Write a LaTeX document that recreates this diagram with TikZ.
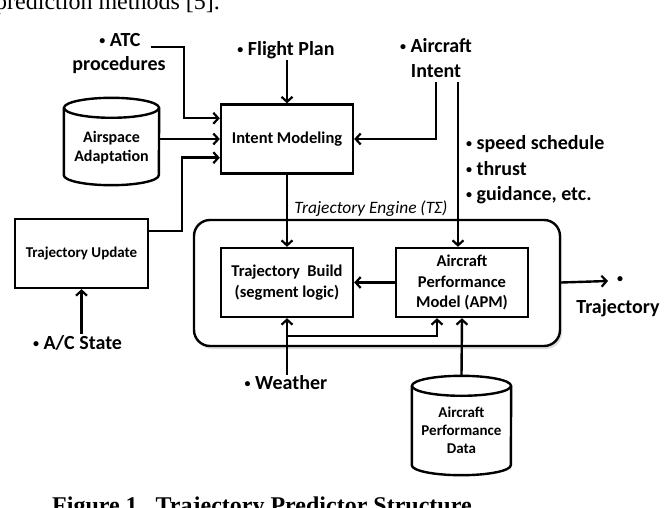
\documentclass[tikz,border=0pt]{standalone}
\usepackage{fontspec}
\setmainfont{Carlito}
\newfontfamily\capfont{Liberation Serif}
\usetikzlibrary{arrows.meta,shadows,calc}
\newcommand\bul{\raisebox{0.22ex}{\fontsize{12}{12}\selectfont•}}
\begin{document}
\begin{tikzpicture}[x=1pt,y=-1pt,
  lw/.style={line width=2.4pt},
  arr/.style={lw,-{Straight Barb[length=5pt,width=11pt,line width=2.2pt]}},
  boxn/.style={draw,lw,fill=white,minimum width=132pt,minimum height=69pt,align=center,
    font=\fontsize{16.5}{20.5}\selectfont\bfseries,inner sep=0pt},
  lab/.style={font=\fontsize{20}{25.5}\selectfont\bfseries,align=center,inner sep=1pt},
  cyltext/.style={font=\fontsize{16}{19}\selectfont\bfseries,align=center,inner sep=0pt},
  capt/.style={font=\capfont\fontsize{24}{28}\selectfont,anchor=base west,inner sep=0pt}
]
\useasboundingbox (0,0) rectangle (664,508);
\fill[white] (0,0) rectangle (664,508);

% cut-off surrounding text
\node[capt] (toptext) at (-5,10) {prediction methods [5].};
\node[capt,font=\capfont\bfseries\fontsize{24}{28}\selectfont] (caption) at (52,513) {Figure 1.\ \ Trajectory Predictor Structure};

% trajectory engine
\node[draw,lw,fill=white,rounded corners=16pt,minimum width=366pt,minimum height=126pt,
  drop shadow={shadow xshift=2pt,shadow yshift=-3pt,fill=black!25}] (eng) at (377,283) {};
\node[font=\fontsize{17.4}{19}\selectfont\itshape,inner sep=0pt] (engl) at (371,209) {Trajectory Engine (TΣ)};

% boxes
\node[boxn] (im) at (287,139) {Intent Modeling};
\node[boxn] (tb) at (287,282.5) {Trajectory\ \ Build\\(segment logic)};
\node[boxn] (apm) at (462,282.5) {Aircraft\\Performance\\Model (APM)};
\node[boxn,minimum width=133pt,font=\fontsize{15}{17}\selectfont\bfseries] (tu) at (81.5,253.5) {Trajectory Update};

% cylinders
\node[minimum width=95pt,minimum height=87pt,inner sep=0pt] (asp) at (111.5,141.5) {};
\draw[lw,fill=white] ($(asp.north west)+(0,10)$) -- ($(asp.south west)+(0,-10)$)
  arc[start angle=180,end angle=360,x radius=47.5pt,y radius=10pt] -- ($(asp.north east)+(0,10)$);
\draw[lw] ($(asp.north)+(0,10)$) ellipse[x radius=47.5pt,y radius=10pt];
\node[cyltext] (aspt) at (111.5,148) {Airspace\\Adaptation};

\node[minimum width=99pt,minimum height=99pt,inner sep=0pt] (apd) at (461.5,425.5) {};
\draw[lw,fill=white] ($(apd.north west)+(0,10)$) -- ($(apd.south west)+(0,-10)$)
  arc[start angle=180,end angle=360,x radius=49.5pt,y radius=10pt] -- ($(apd.north east)+(0,10)$);
\draw[lw] ($(apd.north)+(0,10)$) ellipse[x radius=49.5pt,y radius=10pt];
\node[cyltext,font=\fontsize{15}{18}\selectfont\bfseries] (apdt) at (461.5,430) {Aircraft\\Performance\\Data};

% labels
\node[lab] (atc1) at (120,40) {\bul\ ATC};
\node[lab] (atc2) at (119,65) {procedures};
\node[lab] (fp) at (286,50) {\bul\ Flight Plan};
\node[lab] (ai) at (436,58) {\bul\ Aircraft\\Intent};
\node[lab,align=left,anchor=west] (lst) at (465,170) {\bul\ speed schedule\\\bul\ thrust\\\bul\ guidance, etc.};
\node[lab] (acs) at (77.5,343) {\bul\ A/C State};
\node[lab] (wx) at (286,383) {\bul\ Weather};
\node[lab] (outb) at (620,281) {\bul};
\node[lab] (outt) at (618,308) {Trajectory};

% connectors
\draw[arr] ([xshift=9pt,yshift=-7pt]atc1.east) -| ($(im.north west)+(-36,15)$) -- ($(im.north west)+(0,15)$);
\draw[arr] (fp.south -| im.north) -- (im.north);
\draw[arr] (asp.east |- im.west) -- (im.west);
\draw[arr] ($(tu.north east)+(0,13)$) -| ($(im.south west)+(-38,-17)$) -- ($(im.south west)+(0,-17)$);
\draw[arr] ([yshift=-3pt]ai.south) |- (im.east);
\draw[arr] ($([yshift=-3pt]ai.south -| apm.north)+(-4,0)$) -- ($(apm.north)+(-4,0)$);
\draw[arr] (im.south) -- (tb.north);
\draw[arr] (apm.west) -- (tb.east);
\draw[arr] (acs.north -| tu.south) -- (tu.south);
\draw[arr] (wx.north -| tb.south) -- (tb.south);
\draw[arr] ($(tb.south)+(0,18)$) -| ($(apm.south)+(-25,0)$);
\draw[arr] (apd.north) -- (apm.south);
\draw[arr] (eng.east |- apm.east) -- ([xshift=-12pt]outb.center);
\end{tikzpicture}
\end{document}
